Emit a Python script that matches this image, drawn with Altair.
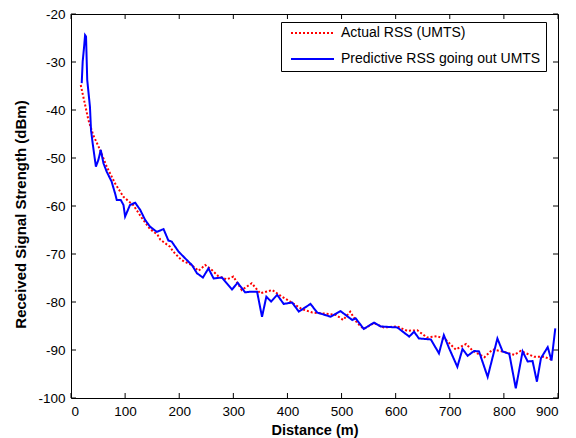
import altair as alt
import pandas as pd

# Predictive RSS going out UMTS (blue solid)
blue_x = [19.8, 21.6, 24, 26, 27.8, 30, 35, 37, 40, 46, 50.6, 55, 60, 66, 75, 81.5, 84.6, 92, 97, 100,
          109, 118.5, 127.8, 137, 146, 158.7, 171, 180, 186, 198.7, 214, 223.5, 232.7, 243.8, 254,
          263.6, 279, 297.5, 308, 322, 331.5, 343.9, 353, 361, 369.8, 381, 393, 408.6, 421, 442.6,
          455, 479.6, 498, 519.8, 526, 541, 560, 572, 603, 625, 634, 643, 665, 680, 689, 699, 714,
          723.5, 733, 745, 754, 770, 788, 797.6, 810, 822, 834.6, 844, 853, 861, 868.5, 881, 888, 895]
blue_y = [-34.4, -29.9, -27.1, -24.4, -24.7, -33.75, -39.3, -44.2, -46.9, -51.8, -50.4, -48.3, -51.1,
          -52.85, -54.9, -57.4, -58.75, -58.75, -59.8, -62.2, -59.8, -59.3, -60.8, -62.9, -64.3, -65.4,
          -64.8, -67.2, -67.4, -69.5, -71.25, -72.3, -74, -74.9, -73, -75.1, -74.9, -77.4, -76, -78,
          -77.85, -77.85, -83.1, -78.9, -79.9, -78.5, -80.4, -80.1, -82, -80.4, -82.2, -83.06, -81.9,
          -83.75, -83.4, -85.6, -84.3, -85.1, -85.3, -87.2, -86.2, -87.6, -87.8, -90.7, -86.9, -89.7,
          -93.5, -89.8, -91.2, -90.2, -90.3, -95.6, -87.6, -90.3, -90.8, -98, -90.3, -92.4, -92.3,
          -96.6, -91.7, -89.4, -92.2, -85.5]

# Actual RSS (UMTS) (red dotted)
red_x = [18, 32, 41, 53.7, 66, 81.5, 97, 115, 131, 146, 160, 165, 183, 189, 204, 223, 235.6, 248, 260,
         272, 288, 300, 315.6, 334, 349.8, 372, 390, 405, 427, 446, 468, 490, 503, 516, 529, 541, 560,
         578, 603, 621, 640, 658, 677, 693, 711, 730, 743, 764, 779, 797, 819, 831, 856, 874, 890]
red_y = [-34.8, -42, -45.2, -48.3, -51.8, -55.3, -58.1, -59.8, -62.5, -64.8, -66, -67, -68.5, -69.5,
         -71.25, -72.3, -73.5, -72.3, -73.3, -74.6, -75.3, -74.7, -77.5, -76.1, -78.2, -77.5, -78.9,
         -79.9, -81.5, -82.2, -82.4, -82.7, -83.75, -82, -84.4, -85.6, -84.4, -85.3, -85.1, -86, -85.9,
         -87.4, -87.1, -87.9, -89.9, -88.75, -90.2, -91.5, -89.9, -90.3, -91, -90.2, -91.4, -91.4, -92.1]

series_names = ["Actual RSS (UMTS)", "Predictive RSS going out UMTS"]
series_colors = ["#ff0000", "#0000ff"]
series_dash = [[2, 2], [1, 0]]

x_ticks = [0, 100, 200, 300, 400, 500, 600, 700, 800, 900]
y_ticks = [-100, -90, -80, -70, -60, -50, -40, -30, -20]

rows = []
for i, (x, y) in enumerate(zip(red_x, red_y)):
    rows.append({"x": x, "y": y, "series": series_names[0], "order": i})
for i, (x, y) in enumerate(zip(blue_x, blue_y)):
    rows.append({"x": x, "y": y, "series": series_names[1], "order": i})
df = pd.DataFrame(rows)

W, H = 487, 384
FONT = "Liberation Sans"

xscale = alt.Scale(domain=[0, 900], nice=False, zero=False)
yscale = alt.Scale(domain=[-100, -20], nice=False, zero=False)
xaxis = alt.Axis(values=x_ticks, title="Distance (m)", titleY=36, titleBaseline="alphabetic",
                 labelExpr="'' + datum.value")
yaxis = alt.Axis(values=y_ticks, title="Received Signal Strength (dBm)", titleX=-45.5, titleY=200,
                 titleAngle=270, titleBaseline="alphabetic", titleAlign="center",
                 labelExpr="'' + datum.value")

lines = alt.Chart(df).mark_line(strokeWidth=2).encode(
    x=alt.X("x:Q", scale=xscale, axis=xaxis),
    y=alt.Y("y:Q", scale=yscale, axis=yaxis),
    color=alt.Color("series:N", scale=alt.Scale(domain=series_names, range=series_colors),
                    legend=alt.Legend(title=None)),
    strokeDash=alt.StrokeDash("series:N", scale=alt.Scale(domain=series_names, range=series_dash),
                              legend=alt.Legend(title=None)),
    order="order:Q",
)

xt = pd.DataFrame({"x": x_ticks})
yt = pd.DataFrame({"y": y_ticks})

bottom_ticks = alt.Chart(xt).mark_rule(color="black", strokeWidth=1).encode(
    x=alt.X("x:Q", scale=xscale, axis=xaxis), y=alt.value(H), y2=alt.value(H - 5))
top_ticks = alt.Chart(xt).mark_rule(color="black", strokeWidth=1).encode(
    x=alt.X("x:Q", scale=xscale, axis=xaxis), y=alt.value(0), y2=alt.value(5))
left_ticks = alt.Chart(yt).mark_rule(color="black", strokeWidth=1).encode(
    y=alt.Y("y:Q", scale=yscale, axis=yaxis), x=alt.value(0), x2=alt.value(5))
right_ticks = alt.Chart(yt).mark_rule(color="black", strokeWidth=1).encode(
    y=alt.Y("y:Q", scale=yscale, axis=yaxis), x=alt.value(W), x2=alt.value(W - 5))

chart = alt.layer(bottom_ticks, top_ticks, left_ticks, right_ticks, lines).properties(
    width=W, height=H,
    padding={"left": 71, "top": 14, "right": 18, "bottom": 40},
    autosize=alt.AutoSizeParams(type="none"),
    background="white",
).configure_view(
    stroke="black", strokeWidth=1
).configure_axis(
    domain=False, ticks=False, grid=False,
    labelFont=FONT, labelFontSize=13.5, labelColor="black", labelPadding=6,
    titleFont=FONT, titleFontSize=14.5, titleFontWeight="bold", titleColor="black",
).configure_axisLeft(titleFontSize=15).configure_legend(
    orient="none", legendX=210, legendY=8,
    strokeColor="black", fillColor="white", padding=5, cornerRadius=0,
    symbolType="stroke", symbolSize=1849, symbolStrokeWidth=2, symbolOffset=4,
    clipHeight=12, rowPadding=12,
    labelFont=FONT, labelFontSize=14, labelColor="black", labelOffset=6, labelLimit=400,
)

chart.save("out.html", embed_options={"renderer": "svg", "actions": False})
